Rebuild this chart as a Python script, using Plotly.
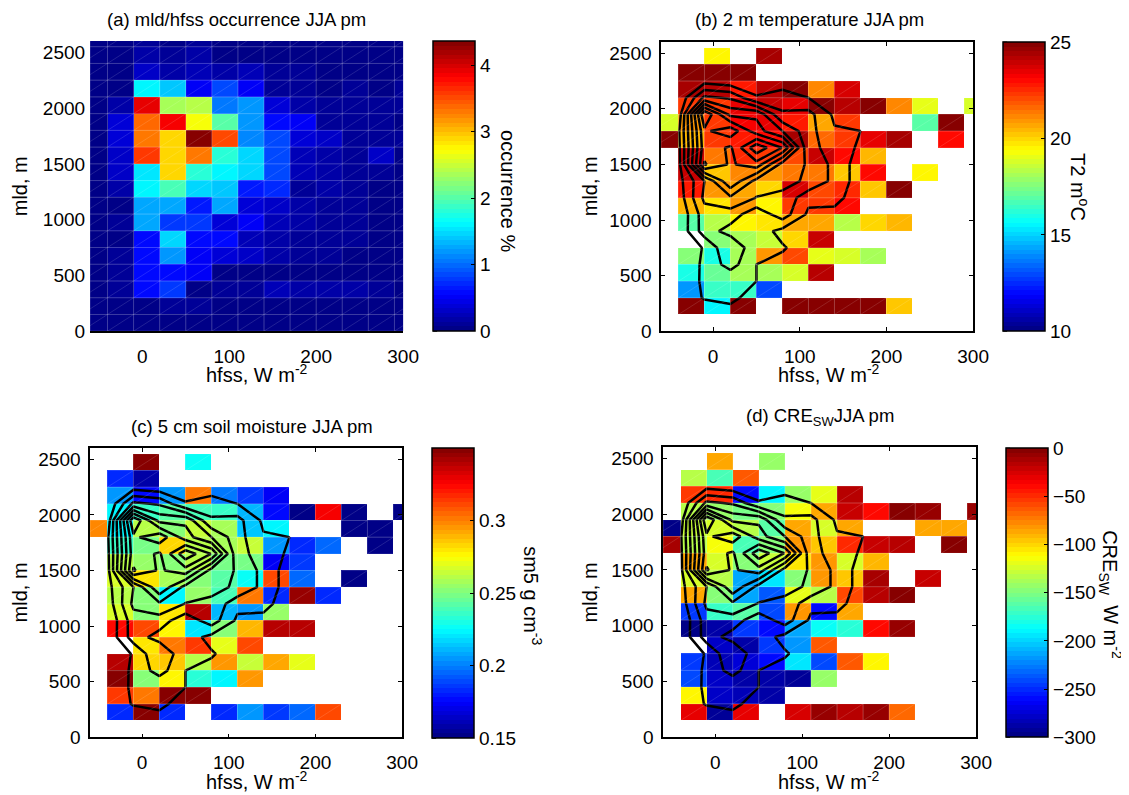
import plotly.graph_objects as go

N = None

x_edges = [-70, -40, -10, 20, 50, 80, 110, 140, 170, 200, 230, 260, 290, 320]
y_edges = [0, 150, 300, 450, 600, 750, 900, 1050, 1200, 1350, 1500, 1650, 1800, 1950, 2100, 2250, 2400, 2550, 2700]

# rows run from the top of the plot (2550 m) down to 0 m, columns from -70 W/m2 rightwards
occurrence = [
    [.02, .02, .10, .05, .10, .03, .05, .02, .02, .02, .02, .02, .02],
    [.02, .03, .20, .10, .15, .05, .05, .03, .03, .02, .02, .02, .02],
    [.02, .03, .30, .15, .25, .15, .25, .07, .10, .05, .05, .03, .03],
    [.02, .03, 1.62, 1.43, .54, .82, .50, .10, .12, .06, .08, .05, .08],
    [.03, .15, 3.95, 2.35, 2.40, 1.05, 1.18, .40, .15, .10, .08, .10, .07],
    [.05, .40, 3.40, 3.83, 2.72, 2.00, 1.20, .55, .50, .12, .10, .07, .05],
    [.04, .35, 3.30, 2.92, 4.35, 3.48, 1.12, .85, .40, .30, .10, .12, .08],
    [.04, .30, 3.55, 2.92, 3.30, 1.80, 1.45, .85, .25, .15, .10, .30, .06],
    [.04, .30, 1.50, 2.92, 1.82, 1.60, 1.45, .85, .25, .15, .10, .10, .05],
    [.03, .20, 1.62, 1.92, 1.48, 1.42, .65, .72, .12, .15, .08, .05, .05],
    [.03, .05, 1.27, 1.27, .65, 1.27, .40, .30, .15, .10, .08, .06, .04],
    [.04, .08, 1.25, .80, .75, .35, .50, .25, .20, .12, .08, .05, .05],
    [.03, .05, .55, 1.48, .60, .55, .25, .20, .10, .10, .07, .05, .04],
    [.03, .07, .60, 1.22, .50, .35, .30, .15, .12, .10, .05, .05, .04],
    [.03, .10, .60, .55, .50, .05, .05, .05, .05, .05, .04, .03, .03],
    [.03, .08, .55, .75, .05, .10, .12, .22, .20, .18, .15, .08, .05],
    [.02, .02, .05, .08, .10, .03, .03, .03, .03, .02, .02, .02, .02],
    [.02, .02, .03, .03, .03, .02, .02, .02, .02, .02, .02, .02, .02],
]

t2m = [
    [N, N, N, N, N, N, N, N, N, N, N, N, N],
    [N, N, 19.6, N, 24.3, N, N, N, N, N, N, N, N],
    [N, 25, 25, 25, N, N, N, N, N, N, N, N, N],
    [N, 24.4, 24.2, 22.7, 24.1, 25, 21.2, 23.7, N, N, N, N, N],
    [N, 22.3, 22.4, 23.5, 24, 23.5, 25, 24.2, 25, 21.2, 19, N, 18.9],
    [18.9, 20.8, 22.3, 23.2, 23.4, 22.8, 20.7, 22.3, N, N, 16.9, 25, N],
    [25, 20.4, 22.2, 22.8, 23, 24.5, 21.5, 22.3, 23.4, 24.4, N, 23.1, N],
    [N, 24, 21.4, 22.5, 22.3, 22, 24, 23, 20.4, N, N, N, N],
    [N, 23.9, 20.2, 21.2, 21, 21.4, 21.4, 20.1, 23, N, 19.4, N, N],
    [N, 22.8, 20.8, 20.7, 20, 23.8, 22, 22.6, 20.2, 25, N, N, N],
    [N, 20.5, 19.7, 20.8, 19.6, 22.3, 22.2, 23, N, N, N, N, N],
    [N, 16.9, 18.4, 19.4, 19.7, 20.6, 20.6, 18.4, 20, 20.5, N, N, N],
    [N, N, 17.6, 18.1, 18.5, 20, 24, N, N, N, N, N, N],
    [N, 17.5, 15.9, 18, 20.8, 22, 19.1, 18.9, 18, N, N, N, N],
    [N, 15.9, 17.2, 18, 18.2, 18.8, 24.2, N, N, N, N, N, N],
    [N, 14, 16.4, 16.5, 12.9, N, N, N, N, N, N, N, N],
    [N, 25, 15.6, 25, N, 25, 25, 25, 25, 20.1, N, N, N],
    [N, N, N, N, N, N, N, N, N, N, N, N, N],
]

soil_moisture = [
    [N, N, N, N, N, N, N, N, N, N, N, N, N],
    [N, N, .347, N, .225, N, N, N, N, N, N, N, N],
    [N, .184, .158, N, N, N, N, N, N, N, N, N, N],
    [N, .204, .178, .204, .300, .198, .186, .173, N, N, N, N, N],
    [N, .222, .236, .243, .240, .236, .212, .176, .150, .327, .152, N, .152],
    [.298, .222, .262, .252, .264, .257, .214, .224, N, N, .150, .152, N],
    [N, .236, .247, .284, .262, .257, .264, .206, .184, .196, N, .152, N],
    [N, .262, .256, .250, .262, .247, .249, .173, .187, N, N, N, N],
    [N, .266, .279, .257, .253, .243, .225, .310, .196, N, .152, N, N],
    [N, .262, .252, .224, .256, .239, .302, .183, .344, .184, N, N, N],
    [N, .266, .252, .279, .340, .212, .206, .256, N, N, N, N, N],
    [N, .322, .310, .276, .219, .250, .289, .340, .340, N, N, N, N],
    [N, N, .279, .300, .314, .270, .310, N, N, N, N, N, N],
    [N, .340, .284, .286, .262, .296, .264, .292, .271, N, N, N, N],
    [N, .348, .252, .278, .232, .224, .296, N, N, N, N, N, N],
    [N, .314, .302, .347, .347, N, N, N, N, N, N, N, N],
    [N, .184, .347, .183, N, .184, .206, .187, .196, .310, N, N, N],
    [N, N, N, N, N, N, N, N, N, N, N, N, N],
]

cre_sw = [
    [N, N, N, N, N, N, N, N, N, N, N, N, N],
    [N, N, -87, N, -144, N, N, N, N, N, N, N, N],
    [N, -132, -168, -63, N, N, N, N, N, N, N, N, N],
    [N, -54, -50, -260, -189, -141, -120, -18, N, N, N, N, N],
    [N, -132, -144, -153, -146, -114, -85, -20, -38, -3, -8, N, -8],
    [-298, -130, -125, -135, -162, -85, -125, -85, N, N, -85, -88, N],
    [-12, -135, -115, -168, -150, -80, -98, -48, -20, -15, N, -2, N],
    [N, -85, -125, -146, -130, -105, -82, -125, -90, N, N, N, N],
    [N, -125, -135, -215, -195, -146, -80, -98, -12, N, -20, N, N],
    [N, -85, -150, -215, -235, -120, -132, -60, -17, -3, N, N, N],
    [N, -248, -172, -162, -240, -80, -260, -85, N, N, N, N, N],
    [N, -296, -290, -248, -262, -215, -186, -175, -40, -5, N, N, N],
    [N, N, -278, -288, -245, -218, -65, N, N, N, N, N, N],
    [N, -248, -285, -275, -262, -195, -240, -63, -108, N, N, N, N],
    [N, -240, -278, -288, -290, -292, -145, N, N, N, N, N, N],
    [N, -112, -280, -285, -290, N, N, N, N, N, N, N, N],
    [N, -30, -292, -30, N, -28, -5, -18, -8, -70, N, N, N],
    [N, N, N, N, N, N, N, N, N, N, N, N, N],
]

x_ticks = [0, 100, 200, 300]
y_ticks = [0, 500, 1000, 1500, 2000, 2500]
contour_start, contour_end, contour_step = 0.5, 4, 0.5

# page keeps its 8px body margin and the photo comes back about 1.4% smaller than the page
PAGE = 8
ZOOM = 1129 / 1113
W, H = 1129, 791
FONT = "Liberation Sans"
TICK_SIZE = 19
TEXT_SIZE = 20
TITLE_SIZE = 18.5


def fx(px):
    return (px * ZOOM - PAGE) / W


def fy(py):
    return 1 - (py * ZOOM - PAGE) / H


def jet_steps(n=64):
    # stepped matlab jet, the colourbars show the discrete levels
    def channel(t, centre):
        return max(0, min(1, 1.5 - abs(4 * t - centre)))
    out = []
    for i in range(n):
        t = (i + 0.5) / n
        rgb = [round(255 * channel(t, c)) for c in (3, 2, 1)]
        col = f"rgb({rgb[0]},{rgb[1]},{rgb[2]})"
        out += [[i / n, col], [(i + 1) / n, col]]
    return out


def cell_lines(rows):
    # faint cell outlines and diagonals left by the renderer of the original
    xs, ys = [], []
    for r, row in enumerate(rows[::-1]):
        for c, v in enumerate(row):
            if v is None:
                continue
            x0, x1 = x_edges[c], x_edges[c + 1]
            y0, y1 = y_edges[r], y_edges[r + 1]
            xs += [x0, x1, x1, x0, x0, None, x0, x1, None]
            ys += [y0, y0, y1, y1, y0, None, y0, y1, None]
    return xs, ys


JET = jet_steps()

panels = [
    dict(rows=occurrence, zmin=0, zmax=4.36, ticks=[0, 1, 2, 3, 4], box=(90, 403, 41, 331), bar=(433, 474, 41, 331),
         contours=False),
    dict(rows=t2m, zmin=10, zmax=25, ticks=[10, 15, 20, 25], box=(661, 973, 42, 331), bar=(1003, 1044, 42, 331),
         contours=True),
    dict(rows=soil_moisture, zmin=0.15, zmax=0.35, ticks=[0.15, 0.2, 0.25, 0.3], box=(90, 402, 448, 737), bar=(432, 473, 448, 738),
         contours=True),
    dict(rows=cre_sw, zmin=-300, zmax=0, ticks=[-300, -250, -200, -150, -100, -50, 0], box=(663, 976, 447, 737), bar=(1006, 1047, 448, 737),
         contours=True),
]

fig = go.Figure()
shapes = []

for n, p in enumerate(panels, start=1):
    xa, ya = f"x{n}", f"y{n}"
    left, right, top, bottom = p["box"]
    bl, br, bt, bb = p["bar"]

    fig.add_trace(go.Heatmap(
        z=p["rows"][::-1], x=x_edges, y=y_edges, xaxis=xa, yaxis=ya,
        zmin=p["zmin"], zmax=p["zmax"], colorscale=JET, hoverongaps=False,
        colorbar=dict(
            x=fx(bl), xanchor="left", xpad=0, y=fy(bb), yanchor="bottom", ypad=0,
            len=(bb - bt) * ZOOM / H, lenmode="fraction", thickness=(br - bl) * ZOOM, thicknessmode="pixels",
            outlinecolor="black", outlinewidth=1.5, tickvals=p["ticks"],
            ticks="inside", ticklen=4, tickcolor="black", tickwidth=1,
            tickfont=dict(family=FONT, size=TICK_SIZE, color="black"),
        ),
    ))
    xs, ys = cell_lines(p["rows"])
    fig.add_trace(go.Scatter(x=xs, y=ys, xaxis=xa, yaxis=ya, mode="lines", hoverinfo="skip", showlegend=False,
                             line=dict(color="rgba(255,255,255,0.22)", width=0.6)))
    if p["contours"]:
        fig.add_trace(go.Contour(
            z=occurrence[::-1], x=x_edges[:-1], y=y_edges[:-1], xaxis=xa, yaxis=ya, showscale=False,
            contours=dict(coloring="none", start=contour_start, end=contour_end, size=contour_step),
            line=dict(color="black", width=2.5, smoothing=0), hoverinfo="skip",
        ))

    framed = p["contours"]
    fig.update_layout(**{
        f"xaxis{n}": dict(
            domain=[fx(left), fx(right)], range=[-60, 300], anchor=ya, tickvals=x_ticks,
            showline=True, linecolor="black", linewidth=1.5, mirror="ticks" if framed else False,
            ticks="inside" if framed else "", ticklen=4, tickcolor="black", showgrid=False, zeroline=False,
            ticklabelstandoff=7, tickfont=dict(family=FONT, size=TICK_SIZE, color="black"),
        ),
        f"yaxis{n}": dict(
            domain=[fy(bottom), fy(top)], range=[0, 2600], anchor=xa, tickvals=y_ticks,
            showline=framed, linecolor="black", linewidth=1.5, mirror="ticks" if framed else False,
            ticks="inside" if framed else "", ticklen=4, tickcolor="black", showgrid=False, zeroline=False,
            ticklabelstandoff=4, tickfont=dict(family=FONT, size=TICK_SIZE, color="black"),
        ),
    })

    # matlab also ticks the left edge of the colourbar
    span = p["zmax"] - p["zmin"]
    for t in p["ticks"]:
        py = bb - (t - p["zmin"]) / span * (bb - bt)
        shapes.append(dict(type="line", xref="paper", yref="paper", x0=fx(bl), x1=fx(bl + 4),
                           y0=fy(py), y1=fy(py), line=dict(color="black", width=1)))


def label(text, px, py, angle=0, size=TEXT_SIZE):
    return dict(text=text, x=fx(px), y=fy(py), xref="paper", yref="paper", showarrow=False,
                xanchor="center", yanchor="middle", textangle=angle, font=dict(family=FONT, size=size, color="black"))


XLABEL = "hfss, W m<sup>-2</sup>"
labels = [
    label("(a) mld/hfss occurrence JJA pm", 236, 19, size=TITLE_SIZE),
    label("(b) 2 m temperature JJA pm", 809, 19, size=TITLE_SIZE),
    label("(c) 5 cm soil moisture JJA pm", 252, 426, size=TITLE_SIZE),
    label("(d) CRE<sub>SW</sub>JJA pm", 820, 417, size=TITLE_SIZE),
    label(XLABEL, 257, 373), label(XLABEL, 829, 373), label(XLABEL, 257, 780), label(XLABEL, 829, 780),
    label("mld, m", 20, 186, -90), label("mld, m", 590, 186, -90),
    label("mld, m", 20, 592, -90), label("mld, m", 590, 592, -90),
    label("occurrence %", 508, 191, 90),
    label("T2 m<sup>o</sup>C", 1080, 187, 90),
    label("sm5 g cm<sup>-3</sup>", 533, 595, 90),
    label("CRE<sub>SW</sub>", 1109, 563, 90),
    label("W m<sup>-2</sup>", 1113, 632, 90),
]

fig.update_layout(
    width=W, height=H, autosize=False, margin=dict(l=0, r=0, t=0, b=0),
    paper_bgcolor="white", plot_bgcolor="white", showlegend=False,
    annotations=labels, shapes=shapes,
)

fig.write_html("out.html", config=dict(displayModeBar=False))
